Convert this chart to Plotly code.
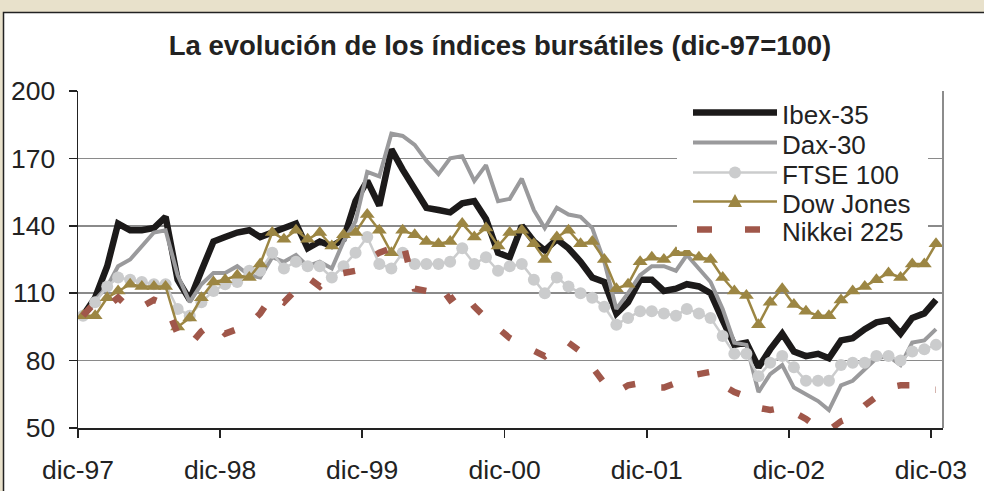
import plotly.graph_objects as go
import pandas as pd

# monthly observations, dic-97 .. dic-03 (index dic-97 = 100)
months = pd.date_range("1997-12-01", periods=73, freq="MS") + pd.Timedelta(days=13)

ibex = [100, 108, 122, 141, 138, 138, 139, 144, 116, 107, 120, 133,
        135, 137, 138, 135, 137, 139, 141, 130, 133, 131, 134, 151,
        160, 149, 174, 165, 157, 148, 147, 146, 150, 151, 143, 128,
        126, 140, 133, 129, 134, 130, 124, 117, 115, 101, 106, 116,
        116, 111, 112, 114, 113, 110, 98, 87, 88, 77, 85, 92,
        84, 82, 83, 81, 89, 90, 94, 97, 98, 92, 99, 101, 107]

dax = [100, 107, 113, 122, 125, 131, 137, 138, 118, 106, 114, 119,
       119, 122, 118, 117, 126, 124, 127, 122, 124, 121, 133, 142,
       164, 162, 181, 180, 176, 169, 163, 170, 171, 160, 167, 151,
       152, 161, 147, 139, 148, 145, 144, 139, 124, 103, 110, 118,
       122, 122, 120, 127, 121, 115, 103, 88, 87, 66, 74, 78,
       68, 65, 62, 58, 69, 71, 76, 81, 82, 78, 88, 89, 94]

ftse = [100, 106, 113, 117, 116, 115, 114, 114, 103, 100, 106, 111,
        114, 115, 120, 120, 128, 121, 124, 122, 122, 117, 122, 128,
        135, 123, 121, 128, 123, 123, 123, 124, 130, 123, 126, 120,
        122, 123, 116, 110, 117, 113, 110, 108, 104, 96, 99, 102,
        102, 101, 100, 103, 101, 99, 91, 83, 83, 73, 79, 82,
        77, 71, 71, 71, 78, 79, 79, 82, 82, 80, 84, 85, 87]

dow = [100, 100, 108, 111, 114, 113, 113, 113, 95, 99, 108, 115,
       116, 118, 117, 123, 137, 134, 138, 134, 137, 131, 136, 137,
       145, 138, 128, 138, 136, 133, 132, 133, 141, 135, 139, 131,
       137, 138, 132, 125, 135, 138, 132, 133, 125, 112, 114, 124,
       126, 125, 128, 128, 126, 125, 117, 111, 109, 96, 106, 112,
       105, 102, 100, 100, 107, 111, 113, 116, 119, 117, 123, 123, 132]

nikkei = [100, 106, 104, 108, 103, 104, 107, 105, 92, 87, 93, 97,
          92, 94, 96, 101, 109, 106, 112, 117, 113, 118, 119, 120,
          125, 128, 130, 133, 112, 111, 114, 107, 111, 104, 99, 94,
          90, 87, 84, 82, 86, 88, 84, 77, 70, 66, 69, 70,
          68, 68, 70, 73, 74, 75, 69, 66, 64, 59, 58, 59,
          57, 54, 50, 49, 53, 55, 60, 64, 68, 69, 69, 67, 67]

series_names = ["Ibex-35", "Dax-30", "FTSE 100", "Dow Jones", "Nikkei 225"]

tick_dates = ["1997-12-01", "1998-12-01", "1999-12-01", "2000-12-01",
              "2001-12-01", "2002-12-01", "2003-12-01"]
tick_labels = ["dic-97", "dic-98", "dic-99", "dic-00", "dic-01", "dic-02", "dic-03"]
y_ticks = [50, 80, 110, 140, 170, 200]

FONT = "Arial, 'Liberation Sans', sans-serif"
TXT = "#222222"
C_IBEX, C_DAX, C_FTSE, C_DOW, C_NIK = "#1c1a1a", "#9a9a9c", "#cbcccd", "#9c8643", "#a0574a"

# plot-area geometry in pixels (for legend placement)
L, R, T, B = 78, 943, 91, 428
W, H = R - L, B - T


def px(x):
    return (x - L) / W


def py(y):
    return (B - y) / H


fig = go.Figure()
fig.add_trace(go.Scatter(x=months, y=ibex, name=series_names[0], mode="lines",
                         line=dict(color=C_IBEX, width=6.5)))
fig.add_trace(go.Scatter(x=months, y=dax, name=series_names[1], mode="lines",
                         line=dict(color=C_DAX, width=4)))
fig.add_trace(go.Scatter(x=months, y=ftse, name=series_names[2], mode="lines+markers",
                         line=dict(color=C_FTSE, width=2.5),
                         marker=dict(symbol="circle", size=12, color=C_FTSE)))
fig.add_trace(go.Scatter(x=months, y=dow, name=series_names[3], mode="lines+markers",
                         line=dict(color=C_DOW, width=2.5),
                         marker=dict(symbol="triangle-up", size=13, color=C_DOW)))
fig.add_trace(go.Scatter(x=months, y=nikkei, name=series_names[4], mode="lines",
                         line=dict(color=C_NIK, width=6.5, dash="12px,27px")))

# white chart panel on beige background
fig.add_shape(type="rect", xref="paper", yref="paper", layer="below",
              x0=px(3.5), x1=1.12, y0=-0.4, y1=py(12.5),
              fillcolor="white", line=dict(color="#222222", width=1.5))
# right border of plot area
fig.add_shape(type="line", xref="paper", yref="paper", x0=1, x1=1, y0=0, y1=1,
              line=dict(color="#8c8c8c", width=2))

# legend box
fig.add_shape(type="rect", xref="paper", yref="paper", layer="above",
              x0=px(677), x1=px(928), y0=py(250), y1=py(92.5),
              fillcolor="white", line=dict(width=0))
leg_y = [112.5, 142.5, 172.5, 201.5, 229.5]
lx0, lx1, lxm = 693, 777, 735
fig.add_shape(type="line", xref="paper", yref="paper", x0=px(lx0), x1=px(lx1),
              y0=py(leg_y[0]), y1=py(leg_y[0]), line=dict(color=C_IBEX, width=6.5))
fig.add_shape(type="line", xref="paper", yref="paper", x0=px(lx0), x1=px(lx1),
              y0=py(leg_y[1]), y1=py(leg_y[1]), line=dict(color=C_DAX, width=4))
fig.add_shape(type="line", xref="paper", yref="paper", x0=px(lx0), x1=px(lx1),
              y0=py(leg_y[2]), y1=py(leg_y[2]), line=dict(color=C_FTSE, width=2.5))
fig.add_shape(type="circle", xref="paper", yref="paper",
              x0=px(lxm - 6), x1=px(lxm + 6), y0=py(leg_y[2] + 6), y1=py(leg_y[2] - 6),
              fillcolor=C_FTSE, line=dict(width=0))
fig.add_shape(type="line", xref="paper", yref="paper", x0=px(lx0), x1=px(lx1),
              y0=py(leg_y[3]), y1=py(leg_y[3]), line=dict(color=C_DOW, width=2.5))
fig.add_shape(type="path", xref="paper", yref="paper",
              path="M {} {} L {} {} L {} {} Z".format(px(lxm - 7), py(leg_y[3] + 5.5),
                                                       px(lxm + 7), py(leg_y[3] + 5.5),
                                                       px(lxm), py(leg_y[3] - 7.5)),
              fillcolor=C_DOW, line=dict(width=0))
for d0, d1 in [(697, 712), (745, 760)]:
    fig.add_shape(type="line", xref="paper", yref="paper", x0=px(d0), x1=px(d1),
                  y0=py(leg_y[4]), y1=py(leg_y[4]), line=dict(color=C_NIK, width=6.5))
for name, yy in zip(series_names, leg_y):
    fig.add_annotation(xref="paper", yref="paper", x=px(780), y=py(yy + 2),
                       xanchor="left", yanchor="middle", showarrow=False,
                       text=name, font=dict(family=FONT, size=26, color=TXT))

fig.update_layout(
    width=984, height=491,
    margin=dict(l=L, r=984 - R, t=T, b=491 - B),
    paper_bgcolor="#e8e1cb", plot_bgcolor="white",
    font=dict(family=FONT, color=TXT, size=26),
    title=dict(text="<b>La evolución de los índices bursátiles (dic-97=100)</b>",
               x=500 / 984, xanchor="center", y=1 - 45 / 491, yanchor="middle",
               font=dict(family=FONT, size=27.5, color=TXT)),
    showlegend=False,
    hovermode=False,
)
fig.update_xaxes(type="date", range=["1997-12-01", "2004-01-01"],
                 tickvals=tick_dates, ticktext=tick_labels, automargin=False,
                 showgrid=False, showline=True, linecolor="#222222", linewidth=1.5,
                 ticks="outside", ticklen=8, tickcolor="#222222", tickwidth=1.5,
                 ticklabelstandoff=10, zeroline=False,
                 tickfont=dict(family=FONT, size=26.5, color=TXT))
fig.update_yaxes(range=[50, 200], tickvals=y_ticks, automargin=False,
                 showgrid=True, gridcolor="#8a8a8a", gridwidth=1.5,
                 showline=True, linecolor="#222222", linewidth=1.5,
                 ticks="outside", ticklen=8, tickcolor="#222222", tickwidth=1.5,
                 ticklabelstandoff=8, zeroline=False,
                 tickfont=dict(family=FONT, size=26.5, color=TXT))

# remove the browser's default page margin so the figure sits at the window origin
fig.write_html("out.html", config={"displayModeBar": False, "staticPlot": True},
               post_script="document.body.style.margin='0px';document.body.style.overflow='hidden';")
